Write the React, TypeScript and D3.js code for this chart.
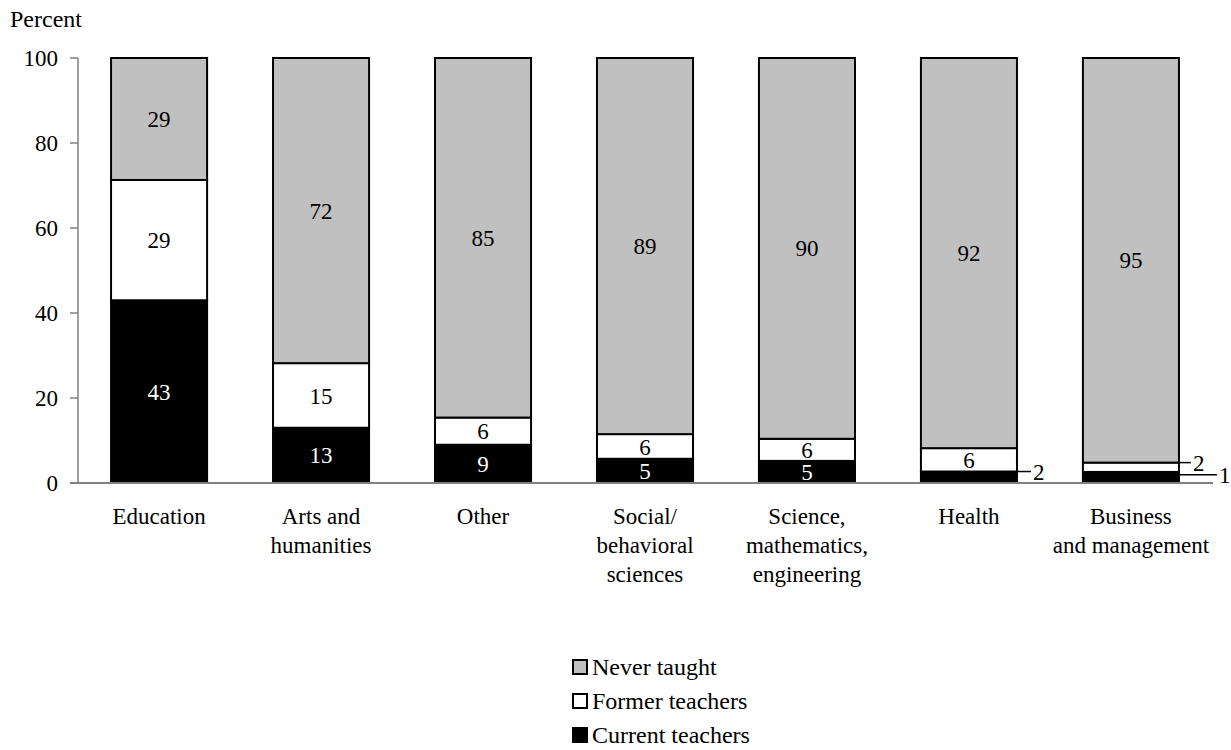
import React from "react";
import * as d3 from "d3";

const categories = [
  "Education",
  "Arts and\nhumanities",
  "Other",
  "Social/\nbehavioral\nsciences",
  "Science,\nmathematics,\nengineering",
  "Health",
  "Business\nand management",
];

// plotted heights
const currentTeachers = [43, 13, 9, 5.7, 5.2, 2.7, 2.6];
const formerTeachers = [28.3, 15.2, 6.4, 5.8, 5.2, 5.5, 2.2];
const neverTaught = [28.7, 71.8, 84.6, 88.5, 89.6, 91.8, 95.2];

// printed labels
const currentLabels = ["43", "13", "9", "5", "5", "", ""];
const formerLabels = ["29", "15", "6", "6", "6", "6", ""];
const neverLabels = ["29", "72", "85", "89", "90", "92", "95"];

// labels set outside the bar with a leader line
const callouts = [
  { cat: 5, series: "current", at: 1, text: "2", len: 14 },
  { cat: 6, series: "former", at: 1, text: "2", len: 12 },
  { cat: 6, series: "current", at: 0.75, text: "1", len: 38 },
];

const yTicks = [0, 20, 40, 60, 80, 100];

const seriesInfo = [
  { key: "current", name: "Current teachers", fill: "#000000", text: "#ffffff", labels: currentLabels },
  { key: "former", name: "Former teachers", fill: "#ffffff", text: "#000000", labels: formerLabels },
  { key: "never", name: "Never taught", fill: "#c0c0c0", text: "#000000", labels: neverLabels },
];

const font = (size: number) => ({ fontFamily: "Liberation Serif", fontSize: size });

const App = () => {
  const rows = categories.map((c, i) => ({
    cat: c,
    current: currentTeachers[i],
    former: formerTeachers[i],
    never: neverTaught[i],
  }));

  const x = d3
    .scaleBand()
    .domain(categories)
    .range([78, 1212])
    .paddingInner(0.407)
    .paddingOuter(0.204);

  const y = d3.scaleLinear().domain([0, 100]).range([483, 58]);

  const layers = d3.stack<any>().keys(["current", "former", "never"])(rows);
  const bw = x.bandwidth();

  return (
    <svg width={1231} height={750} style={{ position: "absolute", left: 0, top: 0, background: "#fff" }}>
      <text x={10} y={27} style={font(24)}>Percent</text>

      {/* y axis */}
      <line x1={78} x2={78} y1={y(0)} y2={y(100)} stroke="#808080" strokeWidth={1.5} />
      {yTicks.map((t) => (
        <g key={t}>
          <line x1={70} x2={78} y1={y(t)} y2={y(t)} stroke="#808080" strokeWidth={1.5} />
          <text x={58} y={y(t)} dy="0.35em" textAnchor="end" style={font(23)}>{t}</text>
        </g>
      ))}

      {/* bars */}
      {layers.map((layer, li) => {
        const info = seriesInfo[li];
        return (
          <g key={info.key}>
            {layer.map((d: any, i: number) => (
              <rect
                key={i}
                x={x(d.data.cat)}
                width={bw}
                y={y(d[1])}
                height={y(d[0]) - y(d[1])}
                fill={info.fill}
                stroke="#000"
                strokeWidth={2}
              />
            ))}
            {layer.map((d: any, i: number) => (
              <text
                key={"t" + i}
                x={x(d.data.cat)! + bw / 2}
                y={(y(d[0]) + y(d[1])) / 2}
                dy="0.35em"
                textAnchor="middle"
                fill={info.text}
                style={font(23)}
              >
                {info.labels[i]}
              </text>
            ))}
          </g>
        );
      })}

      {/* x axis */}
      <line x1={70} x2={1213} y1={y(0)} y2={y(0)} stroke="#808080" strokeWidth={2} />

      {/* callouts */}
      {callouts.map((c, k) => {
        const li = seriesInfo.findIndex((s) => s.key === c.series);
        const seg = layers[li][c.cat];
        const v = seg[0] + (seg[1] - seg[0]) * c.at;
        const x0 = x(categories[c.cat])! + bw;
        return (
          <g key={k}>
            <line x1={x0} x2={x0 + c.len} y1={y(v)} y2={y(v)} stroke="#000" strokeWidth={1.5} />
            <text x={x0 + c.len + 2} y={y(v)} dy="0.35em" style={font(23)}>{c.text}</text>
          </g>
        );
      })}

      {/* category labels */}
      {categories.map((c) => (
        <text key={c} x={x(c)! + bw / 2} y={524} textAnchor="middle" style={font(23)}>
          {c.split("\n").map((line, i) => (
            <tspan key={i} x={x(c)! + bw / 2} dy={i === 0 ? 0 : 29}>{line}</tspan>
          ))}
        </text>
      ))}

      {/* legend */}
      {[...seriesInfo].reverse().map((s, i) => {
        const yy = 660 + i * 34;
        return (
          <g key={s.key}>
            <rect x={573} y={yy} width={14} height={14} fill={s.fill} stroke="#000" strokeWidth={2} />
            <text x={592} y={yy + 15} style={font(24)}>{s.name}</text>
          </g>
        );
      })}
    </svg>
  );
};

export default App;
